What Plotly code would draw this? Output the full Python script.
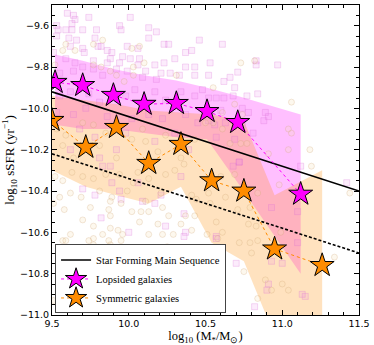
import plotly.graph_objects as go

# binned medians (stars)
lop_x = [9.52, 9.70, 9.90, 10.10, 10.31, 10.51, 10.71, 11.12]
lop_y = [-9.874, -9.889, -9.937, -9.98, -9.976, -10.015, -10.068, -10.415]
lop_hi = [-9.74, -9.77, -9.81, -9.84, -9.865, -9.90, -9.94, -10.03]
lop_lo = [-10.08, -10.10, -10.10, -10.12, -10.14, -10.15, -10.36, -10.80]

sym_x = [9.50, 9.72, 9.92, 10.13, 10.34, 10.54, 10.75, 10.95, 11.26]
sym_y = [-10.058, -10.188, -10.092, -10.266, -10.174, -10.35, -10.40, -10.68, -10.76]
sym_hi = [-9.94, -9.96, -9.98, -10.01, -10.02, -10.03, -10.06, -10.42, -10.30]
sym_lo = [-10.30, -10.38, -10.42, -10.46, -10.38, -10.65, -10.74, -11.10, -11.20]

# star forming main sequence and offset line
ms_x = [9.5, 11.5]
ms_y = [-9.92, -10.40]
ms_off_y = [-10.22, -10.70]

# individual galaxies, lopsided (squares)
lop_pts_x = [9.60, 9.64, 9.65, 9.63, 9.74, 9.53, 9.59, 9.63, 9.54, 9.70, 9.79, 9.94, 9.95, 10.01, 10.13, 10.18,
             9.53, 9.61, 9.66, 9.78, 10.13, 9.62, 9.70, 9.80, 9.82, 9.99, 10.06, 10.23, 10.26, 10.46, 9.51, 9.71,
             9.86, 9.89, 10.07, 9.88, 9.96, 10.01, 10.30, 10.37, 10.41, 9.59, 9.65, 9.77, 9.86, 9.94, 10.06, 10.17,
             10.23, 10.37, 10.43, 9.70, 9.77, 9.92, 9.99, 10.11, 10.21, 10.27, 10.33, 10.43, 10.09, 10.18, 9.83,
             9.55, 9.64,
             10.61, 10.53, 10.52, 10.66, 10.71, 10.83, 10.83, 10.97, 10.62,
             9.55, 9.62, 9.74, 9.81, 9.98, 10.04, 10.17, 10.24, 10.34, 10.43, 9.53, 9.64, 9.72, 9.86, 10.02, 10.13,
             10.22, 10.37, 10.45, 9.68, 9.78, 9.98, 10.30, 9.62, 9.92, 10.17, 10.39, 9.81,
             10.69, 10.57, 10.62, 10.68, 10.52, 10.77, 10.84, 10.48, 10.53, 10.60, 10.74, 10.78, 10.89, 10.91, 10.88,
             10.52, 10.56, 10.63, 10.74, 10.81, 10.69, 10.57, 10.72,
             9.83, 9.88, 9.70, 9.78, 9.89, 9.94, 9.95, 10.06, 10.09, 10.17, 10.21, 10.34, 10.36, 10.24, 9.82, 10.00,
             10.37, 10.36,
             10.68, 10.72, 11.10, 10.93, 11.12, 11.42, 10.57,
             10.57, 10.93, 11.00, 10.70, 10.91, 10.90, 11.13, 11.15, 10.61, 10.82, 11.10]
lop_pts_y = [-9.54, -9.55, -9.57, -9.59, -9.56, -9.60, -9.62, -9.62, -9.62, -9.62, -9.62, -9.60, -9.62, -9.56,
             -9.61, -9.63, -9.65, -9.66, -9.67, -9.66, -9.66, -9.70, -9.71, -9.70, -9.70, -9.70, -9.71, -9.69,
             -9.69, -9.67, -9.73, -9.73, -9.72, -9.73, -9.76, -9.76, -9.75, -9.76, -9.76, -9.73, -9.72, -9.76,
             -9.78, -9.77, -9.78, -9.78, -9.79, -9.79, -9.78, -9.80, -9.80, -9.80, -9.81, -9.81, -9.82, -9.82,
             -9.83, -9.83, -9.84, -9.84, -9.85, -9.86, -9.84, -9.83, -9.82,
             -9.69, -9.78, -9.84, -9.85, -9.825, -9.77, -9.79, -9.79, -9.87,
             -9.94, -9.92, -9.93, -9.97, -9.94, -9.91, -9.92, -9.96, -9.92, -9.94, -10.02, -10.03, -10.00, -10.04,
             -10.05, -10.03, -10.05, -10.03, -10.07, -10.10, -10.14, -10.12, -10.12, -10.20, -10.20, -10.16,
             -10.20, -10.24,
             -9.90, -9.95, -9.95, -9.94, -9.95, -9.94, -9.93, -9.91, -10.01, -10.01, -10.00, -10.02, -10.02,
             -10.04, -10.06, -10.06, -10.08, -10.07, -10.08, -10.12, -10.15, -10.14, -10.26,
             -10.28, -10.28, -10.39, -10.42, -10.36, -10.40, -10.44, -10.36, -10.45, -10.46, -10.42, -10.33,
             -10.51, -10.57, -10.53, -10.60, -10.60, -10.62,
             -10.28, -10.26, -10.50, -10.48, -10.28, -10.36, -10.62,
             -10.63, -10.74, -10.75, -10.75, -10.85, -10.88, -10.90, -10.91, -10.97, -10.96, -10.65]

# individual galaxies, symmetric (circles)
sym_pts_x = [9.59, 9.77, 9.83, 10.02, 10.07, 9.65, 9.57, 9.77, 9.82, 9.92, 10.03, 10.10, 9.52, 9.88, 10.03, 10.31,
             9.97, 10.73, 10.82,
             9.53, 9.59, 9.77, 9.85, 9.57, 9.81, 10.02, 10.11, 10.24, 10.43, 9.64, 9.92, 10.19, 10.34, 9.70, 10.09,
             10.55, 11.06, 10.69, 10.61, 10.74, 10.55, 10.50, 11.04, 11.06, 10.61, 10.66, 10.73, 10.77, 10.91,
             11.04, 11.18,
             9.52, 9.57, 9.63, 9.70, 9.77, 9.85, 9.94, 10.06, 10.13, 10.24, 10.30, 10.36, 9.62, 9.55, 9.69, 9.81,
             9.89, 9.99, 10.03, 10.11, 10.21, 10.41, 10.44, 9.51, 9.58, 9.75, 9.88, 9.95, 9.87, 10.02, 10.08,
             10.13, 10.22, 10.26, 10.37, 10.43, 9.70, 9.77, 9.88, 10.07, 10.19, 10.34, 10.41, 9.88, 9.93, 9.96,
             9.62, 9.83, 10.13, 10.22, 10.29, 9.57, 9.74,
             10.56, 10.60, 10.69, 10.52, 10.53, 10.63, 10.71, 10.79, 10.84, 10.98, 10.57, 10.78, 10.83, 10.99,
             10.61, 11.19, 11.44, 10.51,
             9.59, 9.77, 9.80, 9.88, 9.90, 9.95, 9.90, 10.13, 10.21, 10.26, 10.25, 10.31, 9.51, 9.77, 9.87,
             10.72, 10.79, 10.84, 10.80, 10.58, 10.75, 10.89, 10.93, 11.00, 11.04, 10.59, 10.54, 11.34, 10.84]
sym_pts_y = [-9.69, -9.69, -9.67, -9.71, -9.70, -9.72, -9.72, -9.79, -9.80, -9.84, -9.80, -9.78, -9.79, -9.82,
             -9.84, -9.84, -9.87, -9.78, -9.77,
             -10.10, -10.13, -10.08, -10.12, -10.18, -10.18, -10.15, -10.16, -10.13, -10.15, -10.24, -10.24,
             -10.21, -10.24, -10.07, -10.10,
             -9.90, -9.97, -9.98, -10.02, -10.03, -10.07, -10.07, -10.10, -10.12, -10.10, -10.17, -10.17,
             -10.17, -10.22, -10.20, -10.20,
             -10.33, -10.35, -10.31, -10.33, -10.34, -10.32, -10.32, -10.31, -10.34, -10.32, -10.30, -10.27,
             -10.41, -10.43, -10.43, -10.40, -10.43, -10.40, -10.36, -10.45, -10.41, -10.42, -10.44, -10.46,
             -10.49, -10.48, -10.45, -10.46, -10.49, -10.50, -10.50, -10.50, -10.48, -10.52, -10.52, -10.52,
             -10.54, -10.57, -10.52, -10.55, -10.56, -10.56, -10.59, -10.58, -10.59, -10.61, -10.61, -10.61,
             -10.61, -10.61, -10.61, -10.64, -10.64,
             -10.36, -10.33, -10.32, -10.41, -10.46, -10.43, -10.49, -10.48, -10.41, -10.37, -10.55, -10.56,
             -10.57, -10.60, -10.60, -10.28, -10.41, -10.61,
             -10.64, -10.66, -10.68, -10.66, -10.68, -10.64, -10.71, -10.68, -10.70, -10.70, -10.67, -10.74,
             -10.93, -10.63, -10.64,
             -10.65, -10.65, -10.64, -10.70, -10.63, -10.79, -10.83, -10.88, -10.85, -10.88, -10.81, -10.93,
             -10.72, -10.92]

serif = "Liberation Serif"

fig = go.Figure()

# percentile bands
fig.add_trace(go.Scatter(x=lop_x, y=lop_lo, mode='lines', line=dict(width=0), showlegend=False, hoverinfo='skip'))
fig.add_trace(go.Scatter(x=lop_x, y=lop_hi, mode='lines', line=dict(width=0), fill='tonexty',
                         fillcolor='rgba(255,0,255,0.25)', showlegend=False, hoverinfo='skip'))
fig.add_trace(go.Scatter(x=sym_x, y=sym_lo, mode='lines', line=dict(width=0), showlegend=False, hoverinfo='skip'))
fig.add_trace(go.Scatter(x=sym_x, y=sym_hi, mode='lines', line=dict(width=0), fill='tonexty',
                         fillcolor='rgba(255,140,0,0.25)', showlegend=False, hoverinfo='skip'))

# individual galaxies
fig.add_trace(go.Scatter(x=lop_pts_x, y=lop_pts_y, mode='markers', showlegend=False,
                         marker=dict(symbol='square', size=6, color='rgba(238,130,238,0.15)',
                                     line=dict(color='rgba(218,112,214,0.25)', width=1))))
fig.add_trace(go.Scatter(x=sym_pts_x, y=sym_pts_y, mode='markers', showlegend=False,
                         marker=dict(symbol='circle', size=6, color='rgba(245,222,179,0.22)',
                                     line=dict(color='rgba(205,160,110,0.25)', width=1))))

# main sequence
fig.add_trace(go.Scatter(x=ms_x, y=ms_y, mode='lines', name='Star Forming Main Sequence',
                         line=dict(color='black', width=1.6)))
fig.add_trace(go.Scatter(x=ms_x, y=ms_off_y, mode='lines', showlegend=False,
                         line=dict(color='black', width=1.6, dash='3px,2px')))

# binned medians
fig.add_trace(go.Scatter(x=lop_x, y=lop_y, mode='lines+markers', name='Lopsided galaxies',
                         line=dict(color='magenta', width=1, dash='dot'),
                         marker=dict(symbol='star', size=18, color='magenta', line=dict(color='black', width=1))))
fig.add_trace(go.Scatter(x=sym_x, y=sym_y, mode='lines+markers', name='Symmetric galaxies',
                         line=dict(color='darkorange', width=1, dash='dot'),
                         marker=dict(symbol='star', size=18, color='darkorange', line=dict(color='black', width=1))))

axis_common = dict(showline=True, linecolor='black', linewidth=1, mirror='ticks', ticks='inside',
                   ticklen=5, tickcolor='black', showgrid=False, zeroline=False,
                   tickfont=dict(family='DejaVu Sans', size=9.5, color='black'))

fig.update_layout(
    width=374, height=345,
    margin=dict(l=52, r=12, t=4, b=30),
    plot_bgcolor='white', paper_bgcolor='white',
    xaxis=dict(range=[9.5, 11.5], dtick=0.5, tickformat='.1f',
               minor=dict(dtick=0.1, ticks='inside', ticklen=3, tickcolor='black'),
               title=dict(text='log<sub>10</sub> (M<sub>*</sub>/M<sub>⊙</sub>)', standoff=3,
                          font=dict(family=serif, size=12.5, color='black')),
               **axis_common),
    yaxis=dict(range=[-11.0, -9.5], dtick=0.2, tick0=-11.0, tickformat='.1f',
               minor=dict(dtick=0.05, ticks='inside', ticklen=3, tickcolor='black'),
               title=dict(text='log<sub>10</sub> sSFR (yr<sup>−1</sup>)', standoff=2,
                          font=dict(family=serif, size=13, color='black')),
               **axis_common),
    legend=dict(x=0.01, y=0.005, xanchor='left', yanchor='bottom', bgcolor='white',
                bordercolor='#444', borderwidth=1, font=dict(family=serif, size=10.5, color='black'),
                traceorder='normal', tracegroupgap=0),
    showlegend=True,
)

fig.write_html("out.html", config={'displayModeBar': False},
               post_script="document.body.style.margin='0';")
